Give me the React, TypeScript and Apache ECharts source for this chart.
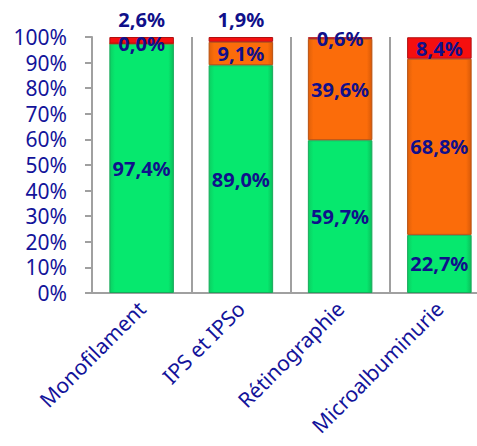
import React, { useEffect, useRef } from "react";
import * as echarts from "echarts";

const categories = ["Monofilament", "IPS et IPSo", "Rétinographie", "Microalbuminurie"];
const greenValues = [97.4, 89.0, 59.7, 22.7];
const orangeValues = [0.0, 9.1, 39.6, 68.8];
const redValues = [2.6, 1.9, 0.6, 8.4];
const redLabelOnTop = [true, true, false, false];
const yTicks = [0, 10, 20, 30, 40, 50, 60, 70, 80, 90, 100];

const fmt = (v: number) => v.toFixed(1).replace(".", ",") + "%";
const navy = "#13139a";
const labelStyle = {
  show: true,
  position: "inside" as const,
  color: "#10108a",
  fontWeight: "bold" as const,
  fontSize: 20,
  lineHeight: 20,
  fontFamily: "Noto Sans",
  formatter: (p: any) => fmt(p.value),
};

export default function App() {
  const ref = useRef<HTMLDivElement>(null);
  useEffect(() => {
    const chart = echarts.init(ref.current!, null, { renderer: "svg" });
    chart.setOption({
      animation: false,
      grid: {
        left: 92,
        top: 37,
        width: 397,
        bottom: 153,
        containLabel: false,
        outerBoundsMode: "none",
      },
      xAxis: {
        type: "category",
        data: categories,
        axisLine: { show: true, lineStyle: { color: "#a0a0a0", width: 2 } },
        axisTick: { show: false },
        splitLine: { show: true, lineStyle: { color: "#a0a0a0", width: 2 } },
        axisLabel: {
          rotate: 45,
          color: navy,
          fontSize: 21,
          lineHeight: 21,
          fontFamily: "Noto Sans",
          margin: 12,
          interval: 0,
        },
      },
      yAxis: {
        type: "value",
        min: yTicks[0],
        max: yTicks[yTicks.length - 1],
        interval: 10,
        axisLine: { show: true, lineStyle: { color: "#a0a0a0", width: 2 } },
        axisTick: { show: true, length: 7, lineStyle: { color: "#a0a0a0", width: 2 } },
        splitLine: { show: false },
        axisLabel: {
          formatter: "{value}%",
          color: navy,
          fontSize: 21,
          lineHeight: 21,
          fontFamily: "Noto Sans",
          margin: 25,
        },
      },
      series: [
        {
          type: "bar",
          stack: "s",
          barWidth: "65%",
          data: greenValues,
          itemStyle: {
            color: new echarts.graphic.LinearGradient(0, 0, 1, 0, [
              { offset: 0, color: "#0ccf62" },
              { offset: 0.08, color: "#06e86e" },
              { offset: 0.92, color: "#06e86e" },
              { offset: 1, color: "#0bbf5a" },
            ]),
            borderColor: "#18a85a",
            borderWidth: 1,
          },
          label: labelStyle,
        },
        {
          type: "bar",
          stack: "s",
          data: orangeValues,
          itemStyle: {
            color: new echarts.graphic.LinearGradient(0, 0, 1, 0, [
              { offset: 0, color: "#e0600a" },
              { offset: 0.08, color: "#fb6c0a" },
              { offset: 0.92, color: "#fb6c0a" },
              { offset: 1, color: "#d85a08" },
            ]),
            borderColor: "#b85010",
            borderWidth: 1,
          },
          label: labelStyle,
        },
        {
          type: "bar",
          stack: "s",
          data: redValues.map((v, i) => ({
            value: v,
            label: redLabelOnTop[i] ? { position: "top", distance: 8 } : { position: "inside" },
          })),
          itemStyle: {
            color: "#f50f0f",
            borderColor: "#b01010",
            borderWidth: 1,
          },
          label: labelStyle,
        },
      ],
    });
    return () => chart.dispose();
  }, []);
  return (
    <div
      ref={ref}
      style={{ position: "absolute", left: 0, top: 0, width: 477, height: 446 }}
    />
  );
}
